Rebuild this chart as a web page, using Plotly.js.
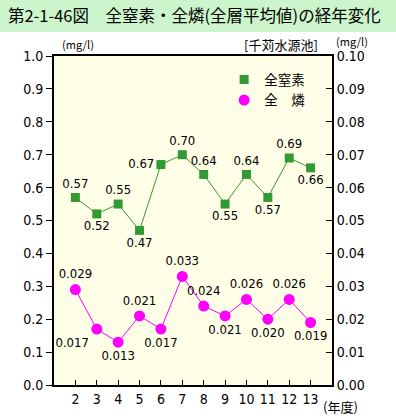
<!DOCTYPE html>
<html><head><meta charset="utf-8">
<script src="https://cdn.plot.ly/plotly-3.0.1.min.js"></script>
<style>html,body{margin:0;padding:0;background:#fff;}#chart{width:396px;height:419px;}</style>
</head><body><div id="chart"></div>
<script>
const years = [2,3,4,5,6,7,8,9,10,11,12,13];
const nitrogen = [0.57,0.52,0.55,0.47,0.67,0.70,0.64,0.55,0.64,0.57,0.69,0.66];
const phosphorus = [0.029,0.017,0.013,0.021,0.017,0.033,0.024,0.021,0.026,0.020,0.026,0.019];
const nLabels = ["0.57","0.52","0.55","0.47","0.67","0.70","0.64","0.55","0.64","0.57","0.69","0.66"];
const pLabels = ["0.029","0.017","0.013","0.021","0.017","0.033","0.024","0.021","0.026","0.020","0.026","0.019"];
const nPos = ["top center","bottom center","top center","bottom center","middle left","top center","top center","bottom center","top center","bottom center","top center","bottom center"];
const pPos = ["top center","bottom left","bottom center","top center","bottom center","top center","top center","bottom center","top center","bottom center","top center","bottom center"];
const seriesNames = ["全窒素","全　燐"];
const leftTicks = [0,0.1,0.2,0.3,0.4,0.5,0.6,0.7,0.8,0.9,1.0];
const rightTicks = [0,0.01,0.02,0.03,0.04,0.05,0.06,0.07,0.08,0.09,0.10];

const font = "'Noto Sans CJK JP', 'Noto Sans', sans-serif";
const numFont = "'Liberation Sans Narrow', 'DejaVu Sans Condensed', 'Noto Sans CJK JP', sans-serif";
const green = '#339933', magenta = '#FF00FF';
const traces = [
  {x: years, y: nitrogen, name: seriesNames[0], type: 'scatter', mode: 'lines+markers+text', showlegend: false,
   text: nLabels, textposition: nPos, textfont: {size: 13, color: '#000', family: numFont},
   line: {color: green, width: 1}, marker: {symbol: 'square', size: 9, color: green}, cliponaxis: false},
  {x: years, y: phosphorus, name: seriesNames[1], type: 'scatter', mode: 'lines+markers+text', yaxis: 'y2', showlegend: false,
   text: pLabels, textposition: pPos, textfont: {size: 13, color: '#000', family: numFont},
   line: {color: magenta, width: 1}, marker: {symbol: 'circle', size: 11, color: magenta}, cliponaxis: false},
  {x: [null], y: [null], name: seriesNames[0], type: 'scatter', mode: 'markers', marker: {symbol: 'square', size: 9, color: green}},
  {x: [null], y: [null], name: seriesNames[1], type: 'scatter', mode: 'markers', marker: {symbol: 'circle', size: 11, color: magenta}}
];

const W = 278, H = 329;
const layout = {
  width: 396, height: 419,
  margin: {l: 54, r: 64, t: 56, b: 34, pad: 0},
  paper_bgcolor: '#ffffff', plot_bgcolor: '#FFFFE8',
  font: {family: font, size: 13, color: '#000'},
  showlegend: true,
  legend: {x: 0.612, y: 0.975, xanchor: 'left', yanchor: 'top', bgcolor: 'rgba(0,0,0,0)', font: {size: 13.5, family: font}, tracegroupgap: 0, itemwidth: 30},
  title: {text: '第2-1-46図　全窒素・全燐(全層平均値)の経年変化', x: 0.02, xanchor: 'left', xref: 'container', y: 1 - 16/419, yanchor: 'middle', yref: 'container', font: {size: 16.5, family: font, color: '#000'}},
  xaxis: {range: [1, 14], tickvals: years, ticktext: years.map(String), ticks: 'inside', ticklen: 5, tickcolor: '#000',
          showline: true, linecolor: '#000', linewidth: 2, mirror: true, showgrid: false, zeroline: false, fixedrange: true,
          tickfont: {size: 14, family: numFont}},
  yaxis: {range: [0, 1.0], tickvals: leftTicks, tickformat: '.1f', ticks: 'outside', ticklen: 6, tickcolor: '#000',
          showline: true, linecolor: '#000', linewidth: 2, showgrid: false, zeroline: false, tickfont: {size: 14, family: numFont}},
  yaxis2: {range: [0, 0.1], tickvals: rightTicks, tickformat: '.2f', overlaying: 'y', side: 'right', ticks: 'inside', ticklen: 6, tickcolor: '#000',
           showline: true, linecolor: '#000', linewidth: 2, showgrid: false, zeroline: false, tickfont: {size: 14, family: numFont}},
  shapes: [
    {type: 'rect', xref: 'paper', yref: 'paper', x0: -54/W, x1: (396-54)/W, y0: (385-32)/H, y1: 385/H,
     fillcolor: '#CCF5CC', line: {width: 0}, layer: 'below'}
  ],
  annotations: [
    {text: '(mg/l)', xref: 'paper', yref: 'paper', x: (60-54)/W, y: (385-44)/H, xanchor: 'left', yanchor: 'middle', showarrow: false, font: {size: 11}},
    {text: '[千苅水源池]', xref: 'paper', yref: 'paper', x: (320-54)/W, y: (385-45)/H, xanchor: 'right', yanchor: 'middle', showarrow: false, font: {size: 13}},
    {text: '(mg/l)', xref: 'paper', yref: 'paper', x: (334-54)/W, y: (385-41)/H, xanchor: 'left', yanchor: 'middle', showarrow: false, font: {size: 11}},
    {text: '(年度)', xref: 'paper', yref: 'paper', x: (321-54)/W, y: (385-406)/H, xanchor: 'left', yanchor: 'middle', showarrow: false, font: {size: 13}}
  ]
};
Plotly.newPlot('chart', traces, layout, {displayModeBar: false, staticPlot: true});
</script></body></html>
